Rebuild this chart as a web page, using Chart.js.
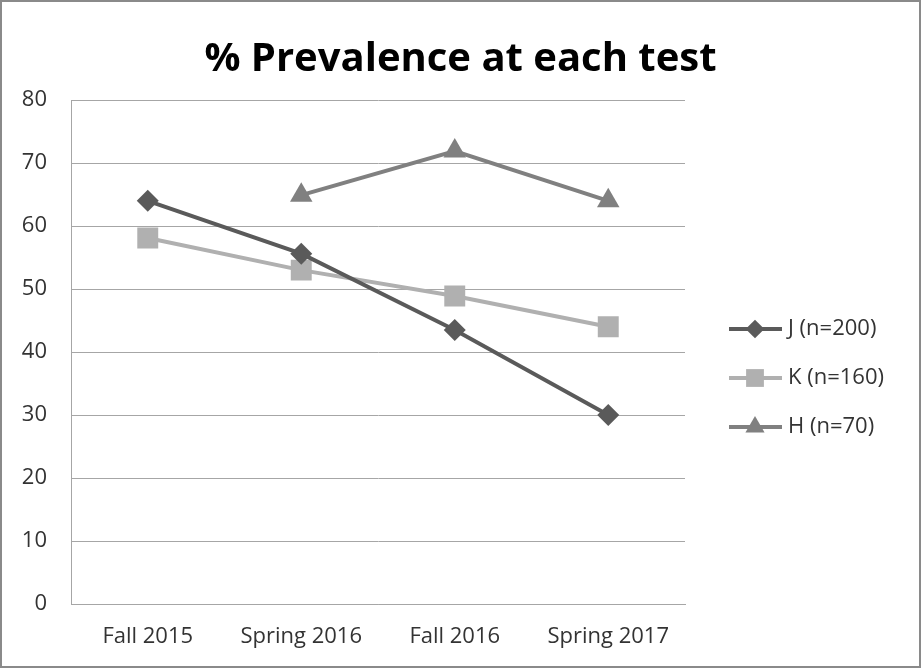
<!DOCTYPE html>
<html><head><meta charset="utf-8">
<script src="https://cdn.jsdelivr.net/npm/chart.js@4/dist/chart.umd.min.js"></script>
<style>html,body{margin:0;padding:0;background:#fff}#wrap{width:921px;height:668px;position:relative}</style>
</head><body><div id="wrap"><canvas id="c" width="921" height="668"></canvas></div>
<script>
const categories = ["Fall 2015", "Spring 2016", "Fall 2016", "Spring 2017"];
const seriesJ = [64.0, 55.6, 43.5, 30.0];
const seriesK = [58.1, 53.0, 48.9, 44.0];
const seriesH = [null, 64.9, 71.9, 64.0];
const seriesNames = ["J (n=200)", "K (n=160)", "H (n=70)"];
const yTicks = [0, 10, 20, 30, 40, 50, 60, 70, 80];
const titleText = "% Prevalence at each test";

const FONT = "'Open Sans', sans-serif";

const bgPlugin = {
  id: 'bg',
  beforeDraw(chart) {
    const ctx = chart.ctx;
    ctx.save();
    ctx.fillStyle = '#fff';
    ctx.fillRect(0, 0, chart.width, chart.height);
    ctx.restore();
  },
  afterDraw(chart) {
    const ctx = chart.ctx;
    ctx.save();
    ctx.strokeStyle = '#8a8a8a';
    ctx.lineWidth = 2;
    ctx.strokeRect(1, 1, chart.width - 2, chart.height - 2);
    ctx.restore();
  }
};

const legendBoxPlugin = {
  id: 'sideLegend',
  beforeInit(chart) {
    const box = {
      position: 'right', weight: 0, fullSize: false, options: {},
      left: 0, top: 0, right: 0, bottom: 0, width: 0, height: 0,
      isHorizontal() { return false; },
      update(maxW, maxH) { this.width = 236; this.height = maxH; },
      draw() {
        const ctx = chart.ctx;
        const ds = chart.data.datasets;
        const ys = [329, 378, 427];
        ctx.save();
        ds.forEach((d, i) => {
          const y = ys[i];
          ctx.strokeStyle = d.borderColor;
          ctx.lineWidth = d.borderWidth;
          ctx.beginPath();
          ctx.moveTo(729, y); ctx.lineTo(782, y); ctx.stroke();
          ctx.fillStyle = d.pointBackgroundColor;
          Chart.helpers.drawPoint(ctx, {pointStyle: d.pointStyle, rotation: 0, borderWidth: 0, radius: d.pointRadius * 0.85}, 755, y);
          ctx.fillStyle = '#333';
          ctx.font = "22px " + FONT;
          ctx.textBaseline = 'middle';
          ctx.textAlign = 'left';
          ctx.fillText(seriesNames[i], 788, y);
        });
        ctx.restore();
      }
    };
    Chart.layouts.addBox(chart, box);
  }
};

const mk = (label, data, color, style, r) => ({
  label, data,
  borderColor: color, backgroundColor: color,
  pointBackgroundColor: color, pointBorderColor: color,
  borderWidth: 4, pointStyle: style, pointRadius: r, pointBorderWidth: 0,
  pointHoverRadius: r, tension: 0, spanGaps: false
});

new Chart(document.getElementById('c'), {
  type: 'line',
  data: {
    labels: categories,
    datasets: [
      mk(seriesNames[0], seriesJ, '#5a5a5a', 'rectRot', 11),
      mk(seriesNames[1], seriesK, '#b0b0b0', 'rect', 14.8),
      mk(seriesNames[2], seriesH, '#808080', 'triangle', 13)
    ]
  },
  options: {
    responsive: false, animation: false,
    layout: { padding: { left: 0, right: 0, top: 0, bottom: -2 } },
    plugins: {
      legend: { display: false },
      tooltip: { enabled: false },
      title: {
        display: true, text: titleText, color: '#000',
        font: { family: FONT, size: 40, weight: 'bold' },
        padding: { top: 36, bottom: 16 }
      }
    },
    scales: {
      x: {
        offset: true,
        grid: { display: false, drawTicks: false },
        border: { display: true, color: '#a6a6a6', width: 1 },
        ticks: { color: '#333', font: { family: FONT, size: 22, lineHeight: 1 }, padding: 22 }
      },
      y: {
        min: 0, max: 80,
        afterBuildTicks(axis) { axis.ticks = yTicks.map(v => ({ value: v })); },
        afterFit(axis) { axis.width = 71; },
        grid: { color: '#a6a6a6', lineWidth: 1, drawTicks: false },
        border: { display: true, color: '#a6a6a6', width: 1 },
        ticks: { color: '#333', font: { family: FONT, size: 22 }, padding: 24 }
      }
    }
  },
  plugins: [bgPlugin, legendBoxPlugin]
});
</script>
</body></html>
